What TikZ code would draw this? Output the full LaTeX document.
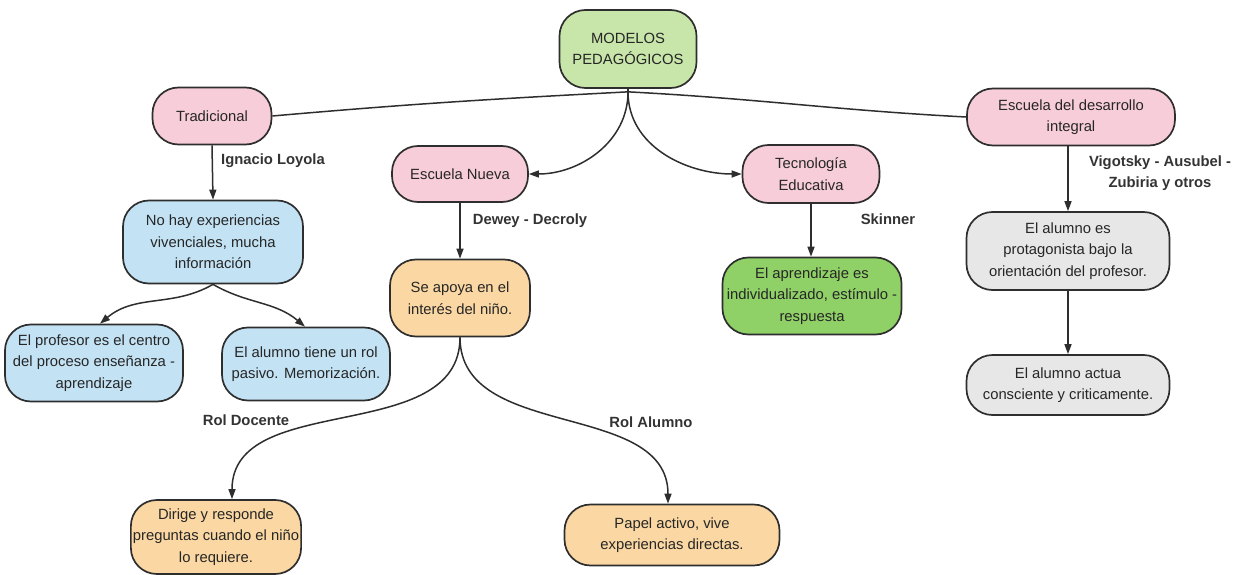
\documentclass[tikz,border=0pt]{standalone}
\usepackage{fontspec}
\setmainfont{Liberation Sans}
\usetikzlibrary{arrows.meta}
\definecolor{edgegray}{HTML}{2E2E2E}
\definecolor{rootgreen}{HTML}{C8E6A9}
\definecolor{modelpink}{HTML}{F7CDD9}
\definecolor{tradblue}{HTML}{C3E3F5}
\definecolor{nuevaorange}{HTML}{FBD8A3}
\definecolor{tecgreen}{HTML}{8FD067}
\definecolor{intgray}{HTML}{E7E7E7}
\tikzset{
  concept/.style={draw=edgegray, line width=1.7pt, rounded corners=26pt,
    align=center, inner sep=2pt, text=black!85,
    font=\fontsize{14.8}{21.5}\selectfont},
  link/.style={draw=edgegray, line width=1.5pt},
  arrowlink/.style={link, -{Triangle[length=10pt,width=7pt]}},
  tag/.style={font=\fontsize{14.8}{21.5}\selectfont\bfseries, text=black!80, align=center}
}
\begin{document}
\begin{tikzpicture}[x=1pt,y=-1pt]
\useasboundingbox (0,0) rectangle (1236,575);

% concepts
\node[concept, fill=rootgreen, minimum width=137pt, minimum height=78pt] (root) at (628,49) {MODELOS\\PEDAGÓGICOS};
\node[concept, fill=modelpink, minimum width=119pt, minimum height=57pt] (trad) at (212,116) {Tradicional};
\node[concept, fill=modelpink, minimum width=136pt, minimum height=56pt] (nueva) at (460,174) {Escuela Nueva};
\node[concept, fill=modelpink, minimum width=137pt, minimum height=58pt] (tec) at (811,174) {Tecnología\\Educativa};
\node[concept, fill=modelpink, minimum width=208pt, minimum height=57pt] (integral) at (1071,117) {Escuela del desarrollo\\integral};

\node[concept, fill=tradblue, minimum width=180pt, minimum height=83pt] (nohay) at (213,242) {No hay experiencias\\vivenciales, mucha\\información};
\node[concept, fill=tradblue, minimum width=178pt, minimum height=77pt] (profesor) at (94,363) {El profesor es el centro\\del proceso enseñanza -\\aprendizaje};
\node[concept, fill=tradblue, minimum width=168pt, minimum height=73pt] (pasivo) at (306,364) {El alumno tiene un rol\\pasivo. Memorización.};

\node[concept, fill=nuevaorange, minimum width=140pt, minimum height=77pt] (apoya) at (460,298) {Se apoya en el\\interés del niño.};
\node[concept, fill=nuevaorange, minimum width=150pt, minimum height=74pt] (dirige) at (216,537) {Dirige y responde\\preguntas cuando el niño\\lo requiere.};
\node[concept, fill=nuevaorange, minimum width=215pt, minimum height=61pt] (papel) at (672,535) {Papel activo, vive\\experiencias directas.};

\node[concept, fill=tecgreen, minimum width=179pt, minimum height=77pt] (indiv) at (812,296) {El aprendizaje es\\individualizado, estímulo -\\respuesta};

\node[concept, fill=intgray, minimum width=203pt, minimum height=78pt] (protag) at (1068,251) {El alumno es\\protagonista bajo la\\orientación del profesor.};
\node[concept, fill=intgray, minimum width=203pt, minimum height=60pt] (actua) at (1068,385) {El alumno actua\\consciente y criticamente.};

% connectors from the root
\coordinate (hub) at ([yshift=-3pt]root.south);
\draw[link] (root.south) -- (hub);
\draw[link] (hub) to[out=183,in=5] (trad.east);
\draw[link] (hub) to[out=-3,in=177] (integral.west);
\draw[arrowlink] (hub) to[out=-90,in=0] (nueva.east);
\draw[arrowlink] (hub) to[out=-90,in=180] (tec.west);

% Tradicional branch
\draw[arrowlink] (trad.south) -- (nohay.north);
\node[tag] (loyola) at (273,161) {Ignacio Loyola};
\draw[arrowlink] (nohay.south) to[out=-150,in=40] ([xshift=6pt]profesor.north);
\draw[arrowlink] (nohay.south) to[out=-30,in=140] ([xshift=-1pt]pasivo.north);

% Escuela Nueva branch
\draw[arrowlink] (nueva.south) -- (apoya.north);
\node[tag] (dewey) at (530,221) {Dewey - Decroly};
\draw[arrowlink] (apoya.south) to[out=-90,in=90] ([xshift=16pt]dirige.north);
\draw[arrowlink] (apoya.south) to[out=-90,in=90] ([xshift=-4pt]papel.north);
\node[tag] (docente) at (246,420) {Rol Docente};
\node[tag] (ralumno) at (651,422) {Rol Alumno};

% Tecnologia Educativa branch
\draw[arrowlink] (tec.south) -- (tec.south |- indiv.north);
\node[tag] (skinner) at (888,219) {Skinner};

% Desarrollo integral branch
\draw[arrowlink] (integral.south -| protag.north) -- (protag.north);
\draw[arrowlink] (protag.south) -- (actua.north);
\node[tag] (vigotsky) at (1160,173) {Vigotsky - Ausubel -\\Zubiria y otros};
\end{tikzpicture}
\end{document}
